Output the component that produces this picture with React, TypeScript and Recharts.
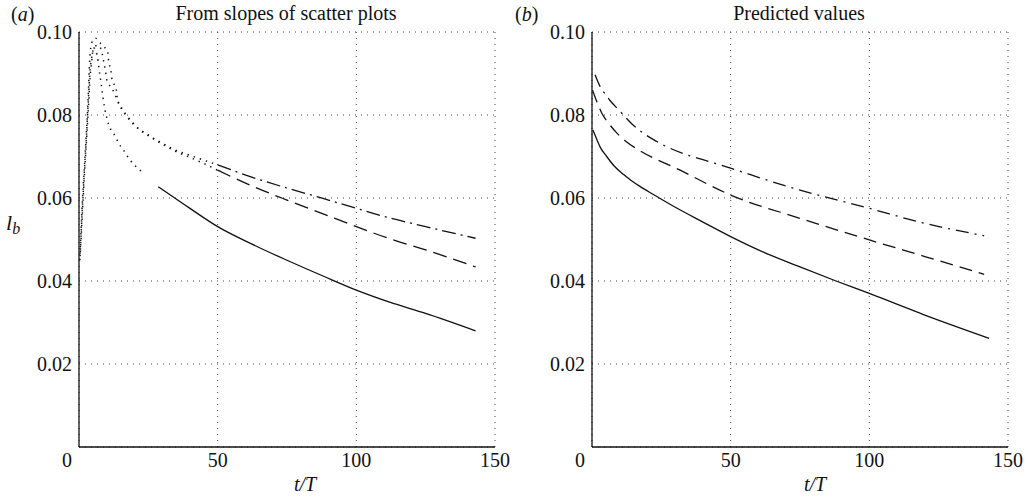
import { CartesianGrid, Line, LineChart, XAxis, YAxis } from "recharts";

const xTicks = [0, 50, 100, 150];
const yTicks = [0.02, 0.04, 0.06, 0.08, 0.1];

// (a) early-time estimates, drawn dotted
const aEarlyDashDot = [
  { t: 0.3, v: 0.045 }, { t: 1.0, v: 0.056 }, { t: 1.8, v: 0.066 }, { t: 2.6, v: 0.075 },
  { t: 3.3, v: 0.084 }, { t: 3.7, v: 0.091 }, { t: 4.2, v: 0.096 }, { t: 5.0, v: 0.098 },
  { t: 6.0, v: 0.0985 }, { t: 7.3, v: 0.0976 }, { t: 8.8, v: 0.0965 }, { t: 10.3, v: 0.0954 },
  { t: 10.7, v: 0.0929 }, { t: 11.5, v: 0.0907 }, { t: 11.9, v: 0.0885 }, { t: 13.4, v: 0.0863 },
  { t: 13.9, v: 0.0836 }, { t: 15.4, v: 0.0814 }, { t: 17.5, v: 0.0794 }, { t: 20.5, v: 0.0772 },
  { t: 24.1, v: 0.0756 }, { t: 27.3, v: 0.0742 }, { t: 30.3, v: 0.0731 }, { t: 33.3, v: 0.072 },
  { t: 41.2, v: 0.07 }, { t: 50, v: 0.068 },
];
const aEarlyDashed = [
  { t: 0.4, v: 0.046 }, { t: 1.1, v: 0.056 }, { t: 1.9, v: 0.066 }, { t: 2.7, v: 0.075 },
  { t: 3.4, v: 0.084 }, { t: 3.9, v: 0.09 }, { t: 4.6, v: 0.094 }, { t: 5.6, v: 0.0965 },
  { t: 6.8, v: 0.0968 }, { t: 8.0, v: 0.0958 }, { t: 8.9, v: 0.0929 }, { t: 9.5, v: 0.0907 },
  { t: 10.0, v: 0.0885 }, { t: 12.0, v: 0.0863 }, { t: 13.3, v: 0.0844 }, { t: 14.9, v: 0.0822 },
  { t: 16.9, v: 0.0802 }, { t: 19.1, v: 0.0784 }, { t: 22.0, v: 0.0764 }, { t: 26.0, v: 0.0746 },
  { t: 30.0, v: 0.073 }, { t: 35.0, v: 0.0712 }, { t: 41.0, v: 0.0695 }, { t: 46.0, v: 0.068 },
  { t: 50, v: 0.0667 },
];
const aEarlySolid = [
  { t: 0.5, v: 0.047 }, { t: 1.2, v: 0.056 }, { t: 2.0, v: 0.066 }, { t: 2.8, v: 0.075 },
  { t: 3.5, v: 0.083 }, { t: 4.0, v: 0.089 }, { t: 4.6, v: 0.093 }, { t: 5.2, v: 0.0962 },
  { t: 6.1, v: 0.0954 }, { t: 6.9, v: 0.0929 }, { t: 7.3, v: 0.0907 }, { t: 7.8, v: 0.0885 },
  { t: 8.3, v: 0.086 }, { t: 8.8, v: 0.0835 }, { t: 9.3, v: 0.0815 }, { t: 9.9, v: 0.0796 },
  { t: 10.9, v: 0.0773 }, { t: 12.7, v: 0.0753 }, { t: 14.3, v: 0.0732 }, { t: 16.3, v: 0.0713 },
  { t: 18.1, v: 0.0694 }, { t: 20.5, v: 0.0676 }, { t: 23.3, v: 0.066 },
];

// (a) later-time estimates
const aSolid = [
  { t: 28.6, v: 0.0627 }, { t: 40, v: 0.0575 }, { t: 50, v: 0.0531 }, { t: 62, v: 0.049 },
  { t: 75, v: 0.045 }, { t: 88, v: 0.0412 }, { t: 100, v: 0.0378 }, { t: 112, v: 0.0349 },
  { t: 125, v: 0.0322 }, { t: 143, v: 0.028 },
];
const aDashed = [
  { t: 50, v: 0.0667 }, { t: 62, v: 0.063 }, { t: 75, v: 0.0595 }, { t: 88, v: 0.0562 },
  { t: 100, v: 0.0531 }, { t: 112, v: 0.0502 }, { t: 125, v: 0.0475 }, { t: 143, v: 0.0434 },
];
const aDashDot = [
  { t: 50, v: 0.068 }, { t: 62, v: 0.0651 }, { t: 75, v: 0.0624 }, { t: 88, v: 0.0599 },
  { t: 100, v: 0.0575 }, { t: 112, v: 0.0552 }, { t: 125, v: 0.0531 }, { t: 143, v: 0.0503 },
];

// (b) predicted values
const bSolid = [
  { t: 0.3, v: 0.0764 }, { t: 1.5, v: 0.0745 }, { t: 3, v: 0.0722 }, { t: 5.3, v: 0.07 },
  { t: 8, v: 0.0677 }, { t: 11.3, v: 0.0657 }, { t: 14, v: 0.0643 }, { t: 17.3, v: 0.0628 },
  { t: 22, v: 0.0609 }, { t: 29.4, v: 0.058 }, { t: 40, v: 0.0542 }, { t: 50, v: 0.0507 },
  { t: 62, v: 0.0469 }, { t: 75, v: 0.0434 }, { t: 88, v: 0.04 }, { t: 100, v: 0.037 },
  { t: 120, v: 0.0318 }, { t: 143.2, v: 0.0262 },
];
const bDashed = [
  { t: 0.2, v: 0.086 }, { t: 1.7, v: 0.0833 }, { t: 3.5, v: 0.0805 }, { t: 5.9, v: 0.0781 },
  { t: 8.9, v: 0.0757 }, { t: 12.5, v: 0.0735 }, { t: 17.3, v: 0.0714 }, { t: 31.8, v: 0.0667 },
  { t: 50, v: 0.0607 }, { t: 75, v: 0.0551 }, { t: 100, v: 0.0499 }, { t: 120, v: 0.0459 },
  { t: 141.4, v: 0.0416 },
];
const bDashDot = [
  { t: 1.1, v: 0.0897 }, { t: 2.9, v: 0.0869 }, { t: 4.7, v: 0.0851 }, { t: 6.5, v: 0.0835 },
  { t: 10.1, v: 0.0809 }, { t: 14.3, v: 0.0779 }, { t: 17.9, v: 0.0759 }, { t: 23.4, v: 0.0736 },
  { t: 50, v: 0.0672 }, { t: 75, v: 0.0619 }, { t: 100, v: 0.0575 }, { t: 120, v: 0.0539 },
  { t: 141.4, v: 0.0509 },
];

const FONT = "Liberation Serif, Times New Roman, serif";
const INK = "#111";
const textStyle = { fontFamily: FONT, fontSize: 20, fill: INK };

function XTick({ x, y, payload }: any) {
  const v = payload.value;
  return (
    <text x={v === 0 ? x - 12 : x} y={y + 20} textAnchor="middle" style={textStyle}>
      {v}
    </text>
  );
}

function YTick({ x, y, payload }: any) {
  return (
    <text x={x - 7} y={y + 7} textAnchor="end" style={textStyle}>
      {Number(payload.value).toFixed(2)}
    </text>
  );
}

interface Series {
  data: { t: number; v: number }[];
  dash?: string;
  width?: number;
}

// plot area is 416 px wide, starting `left` px into a 514 px half
function Panel({ series, left }: { series: Series[]; left: number }) {
  return (
    <LineChart
      width={514}
      height={498}
      margin={{ top: 32, right: 514 - left - 416, bottom: 21, left: left - 40 }}
    >
      <CartesianGrid stroke="#444" strokeDasharray="1 5" />
      <XAxis
        dataKey="t"
        type="number"
        domain={[0, 150]}
        ticks={xTicks}
        tick={<XTick />}
        tickLine={false}
        tickSize={0}
        tickMargin={0}
        height={30}
        axisLine={{ stroke: INK, strokeWidth: 1.3 }}
        allowDataOverflow
      />
      <XAxis
        xAxisId="top"
        orientation="top"
        type="number"
        domain={[0, 150]}
        tick={false}
        tickLine={false}
        height={0}
        axisLine={{ stroke: INK, strokeWidth: 1.3 }}
      />
      <YAxis
        type="number"
        domain={[0, 0.1]}
        ticks={yTicks}
        tick={<YTick />}
        tickLine={false}
        tickSize={0}
        tickMargin={0}
        width={40}
        axisLine={{ stroke: INK, strokeWidth: 1.3 }}
        allowDataOverflow
      />
      <YAxis
        yAxisId="right"
        orientation="right"
        type="number"
        domain={[0, 0.1]}
        tick={false}
        tickLine={false}
        width={0}
        axisLine={{ stroke: INK, strokeWidth: 1.3 }}
      />
      {series.map((s, i) => (
        <Line
          key={i}
          data={s.data}
          dataKey="v"
          type="monotone"
          stroke={INK}
          strokeWidth={s.width ?? 1.3}
          strokeDasharray={s.dash}
          dot={false}
          activeDot={false}
          isAnimationActive={false}
        />
      ))}
    </LineChart>
  );
}

const DOTTED = "1.4 5";

export default function App() {
  const seriesA: Series[] = [
    { data: aEarlyDashDot, dash: DOTTED, width: 1.5 },
    { data: aEarlyDashed, dash: DOTTED, width: 1.5 },
    { data: aEarlySolid, dash: DOTTED, width: 1.5 },
    { data: aSolid },
    { data: aDashed, dash: "14 7" },
    { data: aDashDot, dash: "14 5 2 5" },
  ];
  const seriesB: Series[] = [
    { data: bSolid },
    { data: bDashed, dash: "13 7" },
    { data: bDashDot, dash: "13 6 2 6" },
  ];
  return (
    <div style={{ position: "absolute", left: 0, top: 0, width: 1028, height: 498, background: "#fff" }}>
      <div style={{ position: "absolute", left: 0, top: 0 }}>
        <Panel series={seriesA} left={79} />
      </div>
      <div style={{ position: "absolute", left: 514, top: 0 }}>
        <Panel series={seriesB} left={78} />
      </div>
      <svg width={1028} height={498} style={{ position: "absolute", left: 0, top: 0, pointerEvents: "none" }}>
        <g style={textStyle}>
          <text x={11} y={21}>
            (<tspan fontStyle="italic">a</tspan>)
          </text>
          <text x={515} y={21}>
            (<tspan fontStyle="italic">b</tspan>)
          </text>
          <text x={286} y={20} textAnchor="middle">From slopes of scatter plots</text>
          <text x={799} y={20} textAnchor="middle">Predicted values</text>
          <text x={305} y={491} textAnchor="middle" fontStyle="italic">t/T</text>
          <text x={815} y={491} textAnchor="middle" fontStyle="italic">t/T</text>
          <text x={6} y={230} fontStyle="italic" style={{ fontSize: 22 }}>
            l<tspan style={{ fontSize: 16 }} dy={4}>b</tspan>
          </text>
        </g>
      </svg>
    </div>
  );
}
